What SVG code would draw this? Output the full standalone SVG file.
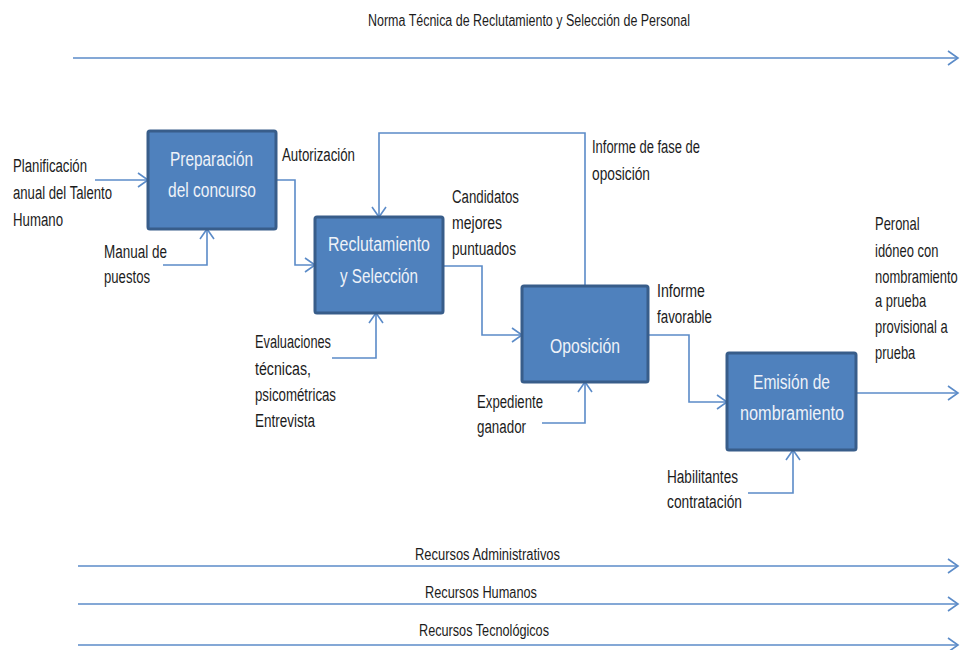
<svg xmlns="http://www.w3.org/2000/svg" width="961" height="650" viewBox="0 0 961 650">
  <style>
    .box { fill: #4f81bd; stroke: #385d8a; stroke-width: 3; }
    .btxt { font-family: "Liberation Sans", Arial, sans-serif; font-size: 20px; fill: #eef2f8; }
    .lbl { font-family: "Liberation Sans", Arial, sans-serif; font-size: 18px; fill: #1c1c1c; }
    .ttl { font-family: "Liberation Sans", Arial, sans-serif; font-size: 16px; fill: #1c1c1c; }
    .wire { fill: none; stroke: #5b8bc8; stroke-width: 1.6; }
    .wire.arr { marker-end: url(#open); }
  </style>
  <defs>
    <marker id="open" markerUnits="userSpaceOnUse" markerWidth="14" markerHeight="16" refX="11" refY="8" orient="auto">
      <path d="M1,1 L11,8 L1,15" fill="none" stroke="#5b8bc8" stroke-width="1.6"/>
    </marker>
  </defs>

  <rect width="961" height="650" fill="#ffffff"/>

  <!-- connectors -->
  <g id="connectors">
    <path class="wire arr" d="M73,58 H958"/>
    <path class="wire arr" d="M78,566 H958"/>
    <path class="wire arr" d="M78,604 H958"/>
    <path class="wire arr" d="M78,645 H958"/>
    <path class="wire arr" d="M95,180 H148"/>
    <path class="wire arr" d="M163,265 H207 V229"/>
    <path class="wire arr" d="M276,180 H295 V265 H315"/>
    <path class="wire arr" d="M585,286 V133 H379 V217"/>
    <path class="wire arr" d="M443,266 H482 V335 H522"/>
    <path class="wire arr" d="M332,358 H376 V313"/>
    <path class="wire arr" d="M542,423 H585 V382"/>
    <path class="wire arr" d="M648,335 H689 V402 H727"/>
    <path class="wire arr" d="M748,493 H793 V450"/>
    <path class="wire arr" d="M856,393 H958"/>
  </g>

  <!-- band labels -->
  <g id="bands">
    <text class="ttl" x="368" y="26" textLength="322" lengthAdjust="spacingAndGlyphs">Norma Técnica de Reclutamiento y Selección de Personal</text>
    <text class="ttl" x="415" y="560" textLength="145" lengthAdjust="spacingAndGlyphs">Recursos Administrativos</text>
    <text class="ttl" x="425" y="598" textLength="112" lengthAdjust="spacingAndGlyphs">Recursos Humanos</text>
    <text class="ttl" x="419" y="636" textLength="130" lengthAdjust="spacingAndGlyphs">Recursos Tecnológicos</text>
  </g>

  <g id="preparacion">
    <rect class="box" x="148" y="131" width="128" height="98" rx="2"/>
    <text class="btxt" x="170" y="166" textLength="83" lengthAdjust="spacingAndGlyphs">Preparación</text>
    <text class="btxt" x="168" y="197" textLength="88" lengthAdjust="spacingAndGlyphs">del concurso</text>
  </g>

  <g id="reclutamiento">
    <rect class="box" x="315" y="217" width="128" height="96" rx="2"/>
    <text class="btxt" x="328" y="251" textLength="102" lengthAdjust="spacingAndGlyphs">Reclutamiento</text>
    <text class="btxt" x="340" y="283" textLength="78" lengthAdjust="spacingAndGlyphs">y Selección</text>
  </g>

  <g id="oposicion">
    <rect class="box" x="522" y="286" width="126" height="96" rx="2"/>
    <text class="btxt" x="550" y="353" textLength="70" lengthAdjust="spacingAndGlyphs">Oposición</text>
  </g>

  <g id="emision">
    <rect class="box" x="727" y="353" width="129" height="97" rx="2"/>
    <text class="btxt" x="753" y="389" textLength="77" lengthAdjust="spacingAndGlyphs">Emisión de</text>
    <text class="btxt" x="740" y="420" textLength="104" lengthAdjust="spacingAndGlyphs">nombramiento</text>
  </g>

  <!-- flow labels -->
  <g id="labels">
    <text class="lbl" x="13" y="172" textLength="74" lengthAdjust="spacingAndGlyphs">Planificación</text>
    <text class="lbl" x="13" y="199" textLength="99" lengthAdjust="spacingAndGlyphs">anual del Talento</text>
    <text class="lbl" x="13" y="226" textLength="50" lengthAdjust="spacingAndGlyphs">Humano</text>

    <text class="lbl" x="104" y="258" textLength="63" lengthAdjust="spacingAndGlyphs">Manual de</text>
    <text class="lbl" x="104" y="283" textLength="46" lengthAdjust="spacingAndGlyphs">puestos</text>

    <text class="lbl" x="282" y="161" textLength="73" lengthAdjust="spacingAndGlyphs">Autorización</text>

    <text class="lbl" x="592" y="153" textLength="108" lengthAdjust="spacingAndGlyphs">Informe de fase de</text>
    <text class="lbl" x="592" y="180" textLength="58" lengthAdjust="spacingAndGlyphs">oposición</text>

    <text class="lbl" x="452" y="203" textLength="67" lengthAdjust="spacingAndGlyphs">Candidatos</text>
    <text class="lbl" x="452" y="229" textLength="50" lengthAdjust="spacingAndGlyphs">mejores</text>
    <text class="lbl" x="452" y="255" textLength="64" lengthAdjust="spacingAndGlyphs">puntuados</text>

    <text class="lbl" x="657" y="297" textLength="48" lengthAdjust="spacingAndGlyphs">Informe</text>
    <text class="lbl" x="657" y="323" textLength="55" lengthAdjust="spacingAndGlyphs">favorable</text>

    <text class="lbl" x="255" y="348" textLength="76" lengthAdjust="spacingAndGlyphs">Evaluaciones</text>
    <text class="lbl" x="255" y="375" textLength="56" lengthAdjust="spacingAndGlyphs">técnicas,</text>
    <text class="lbl" x="255" y="401" textLength="81" lengthAdjust="spacingAndGlyphs">psicométricas</text>
    <text class="lbl" x="255" y="427" textLength="60" lengthAdjust="spacingAndGlyphs">Entrevista</text>

    <text class="lbl" x="477" y="408" textLength="66" lengthAdjust="spacingAndGlyphs">Expediente</text>
    <text class="lbl" x="477" y="433" textLength="49" lengthAdjust="spacingAndGlyphs">ganador</text>

    <!-- output label, narrowed so it stays inside the right edge -->
    <g transform="translate(875,0) scale(0.72,1)">
      <text class="lbl" x="0" y="230">Peronal</text>
      <text class="lbl" x="0" y="257">idóneo con</text>
      <text class="lbl" x="0" y="283">nombramiento</text>
      <text class="lbl" x="0" y="307">a prueba</text>
      <text class="lbl" x="0" y="333">provisional a</text>
      <text class="lbl" x="0" y="359">prueba</text>
    </g>

    <text class="lbl" x="667" y="483" textLength="71" lengthAdjust="spacingAndGlyphs">Habilitantes</text>
    <text class="lbl" x="667" y="508" textLength="75" lengthAdjust="spacingAndGlyphs">contratación</text>
  </g>
</svg>
